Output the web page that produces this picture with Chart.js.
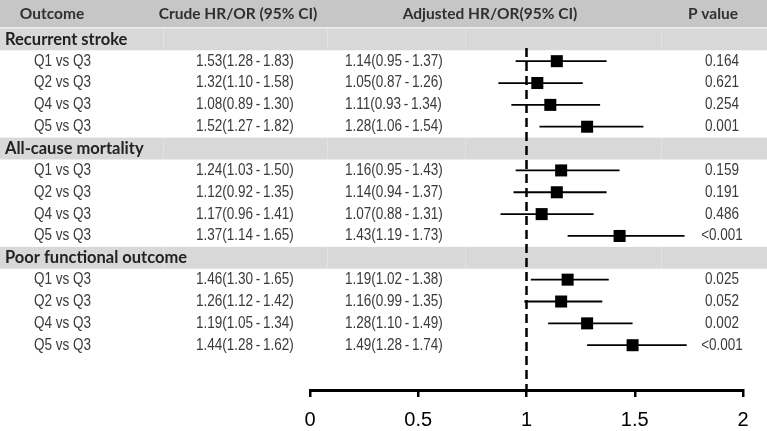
<!DOCTYPE html>
<html>
<head>
<meta charset="utf-8">
<script src="https://cdn.jsdelivr.net/npm/chart.js@4.4.1/dist/chart.umd.min.js"></script>
<style>
  body { margin: 0; background: #fff; }
  canvas { display: block; }
</style>
</head>
<body>
<canvas id="forest" width="767" height="431"></canvas>
<script>
// datos del forest plot
const groups = ["Recurrent stroke", "All-cause mortality", "Poor functional outcome"];
const comparisons = ["Q1 vs Q3", "Q2 vs Q3", "Q4 vs Q3", "Q5 vs Q3"];

const crudeHR = [1.53, 1.32, 1.08, 1.52, 1.24, 1.12, 1.17, 1.37, 1.46, 1.26, 1.19, 1.44];
const crudeLo = [1.28, 1.10, 0.89, 1.27, 1.03, 0.92, 0.96, 1.14, 1.30, 1.12, 1.05, 1.28];
const crudeHi = [1.83, 1.58, 1.30, 1.82, 1.50, 1.35, 1.41, 1.65, 1.65, 1.42, 1.34, 1.62];

const adjHR = [1.14, 1.05, 1.11, 1.28, 1.16, 1.14, 1.07, 1.43, 1.19, 1.16, 1.28, 1.49];
const adjLo = [0.95, 0.87, 0.93, 1.06, 0.95, 0.94, 0.88, 1.19, 1.02, 0.99, 1.10, 1.28];
const adjHi = [1.37, 1.26, 1.34, 1.54, 1.43, 1.37, 1.31, 1.73, 1.38, 1.35, 1.49, 1.74];

const pValues = ["0.164", "0.621", "0.254", "0.001", "0.159", "0.191", "0.486", "<0.001",
                 "0.025", "0.052", "0.002", "<0.001"];

const headers = ["Outcome", "Crude HR/OR (95% CI)", "Adjusted HR/OR(95% CI)", "P value"];
const xTicks = [0, 0.5, 1, 1.5, 2];
const xTickLabels = ["0", "0.5", "1", "1.5", "2"];
const refValue = 1;

// fila de cada grupo y de cada comparacion
const groupRow = g => 1 + g * 5;
const dataRow = i => 2 + Math.floor(i / 4) * 5 + (i % 4);

const fmt = (v, lo, hi) => v.toFixed(2) + "(" + lo.toFixed(2) + "\u2009-\u2009" + hi.toFixed(2) + ")";

const bodyFont = "16px 'Liberation Sans', Arial, sans-serif";
const headFont = "Lato, 'Open Sans', sans-serif";
const squeeze = 0.845; // letra estrecha

// texto comprimido en horizontal
function narrowText(ctx, txt, x, y, align) {
  ctx.save();
  ctx.translate(x, y);
  ctx.scale(squeeze, 1);
  ctx.textAlign = align;
  ctx.fillText(txt, 0, 0);
  ctx.restore();
}

const tablePlugin = {
  id: "tabla",
  beforeDatasetsDraw(chart) {
    const ctx = chart.ctx;
    const y = chart.scales.y;
    const W = chart.width;
    ctx.save();
    // cabecera
    ctx.fillStyle = "#c6c6c6";
    ctx.fillRect(0, 0, W, y.getPixelForValue(0.45));
    // bandas de grupo
    groups.forEach((g, k) => {
      const r = groupRow(k);
      const top = y.getPixelForValue(r - 0.5), bot = y.getPixelForValue(r + 0.5);
      ctx.fillStyle = "#d8d8d8";
      ctx.fillRect(0, top, W, bot - top);
      ctx.fillStyle = "#e2e2e2";
      [163, 327, 465, 661].forEach(x => ctx.fillRect(x, top, 1, bot - top));
    });
    ctx.restore();
  },
  afterDraw(chart) {
    const ctx = chart.ctx;
    const y = chart.scales.y;
    ctx.save();
    ctx.textBaseline = "middle";
    // cabecera
    ctx.fillStyle = "#303030";
    ctx.font = "bold 15.5px " + headFont;
    ctx.textAlign = "center";
    const hy = y.getPixelForValue(0) - 3;
    [52, 238, 490, 713].forEach((x, k) => ctx.fillText(headers[k], x, hy));
    // grupos
    ctx.textAlign = "left";
    ctx.font = "bold 16.5px " + headFont;
    ctx.fillStyle = "#222";
    groups.forEach((g, k) => ctx.fillText(g, 5, y.getPixelForValue(groupRow(k))));
    // filas
    ctx.font = bodyFont;
    ctx.fillStyle = "#3a3a3a";
    adjHR.forEach((v, i) => {
      const py = y.getPixelForValue(dataRow(i));
      narrowText(ctx, comparisons[i % 4], 34, py, "left");
      narrowText(ctx, fmt(crudeHR[i], crudeLo[i], crudeHi[i]), 196, py, "left");
      narrowText(ctx, fmt(v, adjLo[i], adjHi[i]), 345, py, "left");
      narrowText(ctx, pValues[i], 722, py, "center");
    });
    ctx.restore();
  }
};

const datasets = [];
datasets.push({
  data: [{ x: refValue, y: 1.4 }, { x: refValue, y: 17.05 }],
  showLine: true, borderColor: "#000", borderWidth: 2.5, borderDash: [9, 5], pointRadius: 0
});
adjHR.forEach((v, i) => {
  datasets.push({
    data: [{ x: adjLo[i], y: dataRow(i) }, { x: adjHi[i], y: dataRow(i) }],
    showLine: true, borderColor: "#000", borderWidth: 1.8, pointRadius: 0
  });
});
datasets.push({
  data: adjHR.map((v, i) => ({ x: v, y: dataRow(i) })),
  pointStyle: "rect", pointRadius: 8.5, backgroundColor: "#000", borderColor: "#000", borderWidth: 0
});

new Chart(document.getElementById("forest"), {
  type: "scatter",
  data: { datasets: datasets },
  options: {
    responsive: false,
    animation: false,
    events: [],
    layout: { autoPadding: false, padding: { left: 310, right: 24, top: 0, bottom: 0 } },
    plugins: { legend: { display: false }, tooltip: { enabled: false } },
    scales: {
      x: {
        type: "linear", min: 0, max: 2,
        afterBuildTicks: s => { s.ticks = xTicks.map(v => ({ value: v })); },
        afterFit: s => { s.height = 41; },
        ticks: {
          color: "#000", padding: 11,
          font: { family: "'Liberation Sans', Arial, sans-serif", size: 20 },
          callback: v => xTickLabels[xTicks.indexOf(v)]
        },
        grid: { drawOnChartArea: false, drawTicks: true, tickLength: 7, color: "#000", lineWidth: 2.5 },
        border: { color: "#000", width: 3 }
      },
      y: { type: "linear", display: false, min: -0.8, max: 17.05, reverse: true }
    }
  },
  plugins: [tablePlugin]
});
</script>
</body>
</html>
